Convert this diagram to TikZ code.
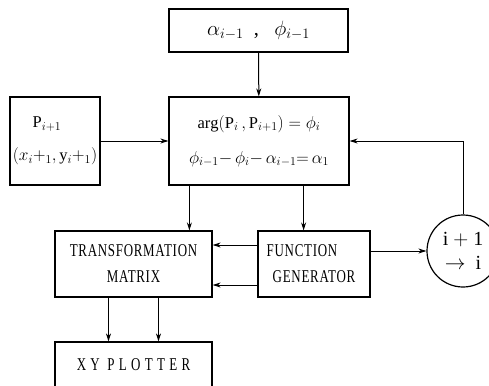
\documentclass[tikz,border=0pt]{standalone}
\usepackage{fontspec}
\setmainfont{Liberation Serif}
\newfontfamily\boxfont[FakeStretch=0.72,LetterSpace=4]{Liberation Serif}
\newfontfamily\wideboxfont[FakeStretch=0.72,LetterSpace=24]{Liberation Serif}
\usetikzlibrary{arrows.meta,positioning,calc}

\begin{document}
\begin{tikzpicture}[x=1pt,y=-1pt,
		blk/.style={draw,line width=1.2pt,inner sep=0pt,align=center,font=\boxfont\fontsize{18}{16}\selectfont},
		mathblk/.style={blk,font=\fontsize{16.5}{16}\selectfont},
		flow/.style={line width=1pt,-{Stealth[length=8pt,width=5pt]}}]
			
			\useasboundingbox (0,0) rectangle (489,385);
			
			\node[mathblk,minimum width=179pt,minimum height=43pt,font=\fontsize{20.5}{18}\selectfont] (angles) at (258.5,30.5)
			{$\alpha_{i-1}$\ \ ,\ \ \ $\phi_{i-1}$};
			
			\node[mathblk,minimum width=180pt,minimum height=88pt] (calc) at (259,141)
			{$\arg(\mathrm{P}_i\,,\mathrm{P}_{i+1})=\phi_i$\\[18pt]
			 $\phi_{i-1}{-}\,\phi_i{-}\,\alpha_{i-1}{=}\,\alpha_1$};
			
			\node[mathblk,minimum width=90pt,minimum height=88pt] (point) at (55,141)
			{\hspace*{-16pt}$\mathrm{P}_{i+1}$\\[16pt]
			 $(x_i{+}_1,\mathrm{y}_i{+}_1)$};
			
			\node[blk,minimum width=157pt,minimum height=66pt] (matrix) at (133.5,264)
			{TRANSFORMATION\\[10pt] MATRIX};
			
			\node[blk,minimum width=112pt,minimum height=66pt] (fgen) at (314,264)
			{\hspace*{-24pt}FUNCTION\\[10pt] GENERATOR};
			
			\node[blk,minimum width=157pt,minimum height=46pt,font=\wideboxfont\fontsize{18}{16}\selectfont] (plotter) at (133.5,365)
			{XY PLOTTER};
			
			\node[blk,circle,minimum size=72pt,font=\fontsize{20}{20}\selectfont] (incr) at (463,251)
			{i $+$ 1\\[4pt] $\rightarrow$\ \ i};
			
			\draw[flow] (angles) -- (calc);
			\draw[flow] (point) -- (calc);
			\draw[flow] ([xshift=21pt]calc.south west) -- ([xshift=21pt]calc.south west |- matrix.north);
			\draw[flow] ([xshift=-46pt]calc.south east) -- ([xshift=-46pt]calc.south east |- fgen.north);
			\draw[flow] ([yshift=19pt]fgen.west) -- ([yshift=19pt]fgen.west -| matrix.east);
			\draw[flow] ([yshift=-21pt]fgen.west) -- ([yshift=-21pt]fgen.west -| matrix.east);
			\draw[flow] (fgen.east |- incr.west) -- (incr.west);
			\draw[flow] (incr.north) |- (calc.east);
			\draw[flow] ([xshift=-25pt]matrix.south) -- ([xshift=-25pt]matrix.south |- plotter.north);
			\draw[flow] ([xshift=25pt]matrix.south) -- ([xshift=25pt]matrix.south |- plotter.north);
			
		\end{tikzpicture}
\end{document}
